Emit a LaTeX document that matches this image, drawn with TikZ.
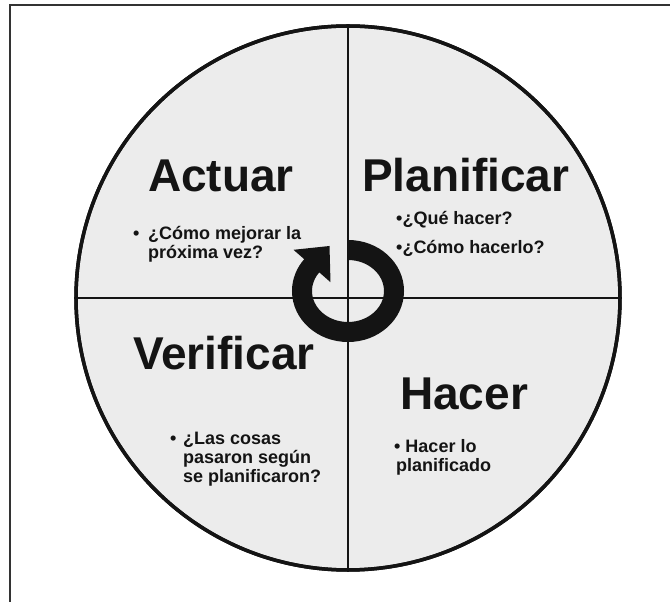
\documentclass[tikz,border=0pt]{standalone}
\usepackage{fontspec}
\setmainfont{Liberation Sans}
\definecolor{fillgray}{HTML}{ECECEC}
\definecolor{ink}{HTML}{141414}
\definecolor{framegray}{HTML}{333333}
\begin{document}
\begin{tikzpicture}[x=1pt,y=1pt,
  title/.style={font=\fontsize{46}{50}\selectfont\bfseries, anchor=base west, inner sep=0pt, text=ink},
  item/.style={font=\fontsize{18}{20}\selectfont\bfseries, anchor=base west, inner sep=0pt, text=ink},
  divider/.style={line width=2pt, draw=ink},
]
\useasboundingbox (0,0) rectangle (670,602);
\fill[white] (0,0) rectangle (670,602);
% frame (top and left only)
\coordinate (ftl) at (10,597);
\coordinate (ftr) at (671,597);
\coordinate (fbl) at (10,-1);
\draw[framegray, line width=2.5pt] (ftr) -- (ftl) -- (fbl);
% wheel
\node[circle, minimum size=544pt, inner sep=0pt, fill=fillgray, draw=ink, line width=3.5pt] (wheel) at (348,304) {};
\draw[divider] (wheel.north) -- (wheel.south);
\draw[divider] (wheel.west) -- (wheel.east);
\draw[ink, line width=3.5pt] (wheel.center) circle[radius=272];
% circular arrow
\coordinate (ringstart) at (348,352);
\draw[ink, line width=20pt] (ringstart) arc[start angle=90, end angle=-219, x radius=46, y radius=41];
\coordinate (hA) at (293.5,352.2);
\coordinate (hB) at (329.5,356);
\coordinate (hC) at (330.5,319.8);
\fill[ink] (hA) -- (hB) -- (hC) -- cycle;
% titles
\node[title] (actuar) at (148,410) {Actuar};
\node[title] (planificar) at (362,410) {Planificar};
\node[title] (verificar) at (133,232) {Verificar};
\node[title] (hacer) at (400,192) {Hacer};
% Actuar items
\node[item] (b1) at (133,362) {•};
\node[item] (a1) at (148,362) {¿Cómo mejorar la};
\node[item] (a2) at (148,343) {próxima vez?};
% Planificar items
\node[item] (p1) at (396,377) {•¿Qué hacer?};
\node[item] (p2) at (396,348) {•¿Cómo hacerlo?};
% Verificar items
\node[item] (b3) at (170,157) {•};
\node[item] (v1) at (183,157) {¿Las cosas};
\node[item] (v2) at (183,138) {pasaron según};
\node[item] (v3) at (183,119) {se planificaron?};
% Hacer items
\node[item] (h1) at (394,149) {• Hacer lo};
\node[item] (h2) at (396,130) {planificado};
\end{tikzpicture}
\end{document}
